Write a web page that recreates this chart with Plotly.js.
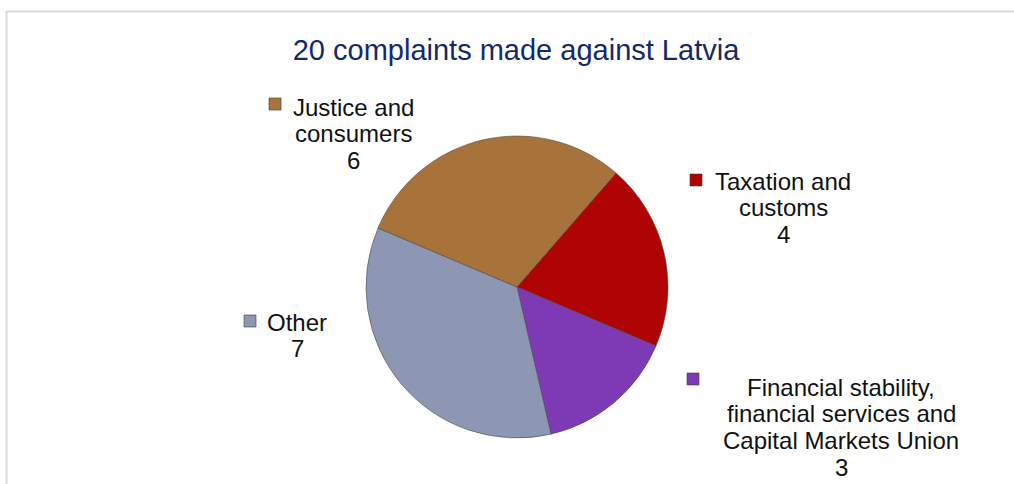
<!DOCTYPE html>
<html>
<head>
<meta charset="utf-8">
<script src="https://cdn.plot.ly/plotly-3.0.1.min.js"></script>
<style>html,body{margin:0;padding:0;background:#fff;}#chart{width:1014px;height:484px;}</style>
</head>
<body>
<div id="chart"></div>
<script>
// ---- data ----
const categories = [
  'Taxation and customs',
  'Financial stability, financial services and Capital Markets Union',
  'Other',
  'Justice and consumers'
];
const values = [4, 3, 7, 6];
const labelLines = [
  ['Taxation and', 'customs'],
  ['Financial stability,', 'financial services and', 'Capital Markets Union'],
  ['Other'],
  ['Justice and', 'consumers']
];
const sliceColors = ['#B00404', '#7E3AB4', '#8D97B3', '#A8733B'];
const titleText = '20 complaints made against Latvia';

// ---- layout helpers (pixel -> paper) ----
const W = 1014, H = 484;
const px = x => x / W;
const py = y => 1 - y / H;

// label block positions: [centre x, first line centre y, marker x, marker y]
const labelPos = [
  [783, 181, 696, 180],
  [841, 387, 693, 379],
  [297, 322, 250, 321],
  [353, 107, 275, 104]
];
const lineGap = 26.7;

const annotations = [];
const shapes = [];
labelLines.forEach((lines, i) => {
  const all = lines.concat([String(values[i])]);
  const p = labelPos[i];
  all.forEach((t, k) => {
    annotations.push({
      text: t, x: px(p[0]), y: py(p[1] + k * lineGap),
      xref: 'paper', yref: 'paper', xanchor: 'center', yanchor: 'middle',
      showarrow: false, font: {family: 'Liberation Sans, Arial, sans-serif', size: 24, color: '#111'}
    });
  });
  const s = 6;
  shapes.push({
    type: 'rect', xref: 'paper', yref: 'paper',
    x0: px(p[2] - s), x1: px(p[2] + s), y0: py(p[3] + s), y1: py(p[3] - s),
    fillcolor: sliceColors[i], line: {color: 'rgba(60,60,60,0.6)', width: 1}
  });
});

// outer frame
shapes.push({
  type: 'rect', xref: 'paper', yref: 'paper',
  x0: px(6.5), x1: px(1030), y0: py(500), y1: py(11.5),
  fillcolor: 'rgba(0,0,0,0)', line: {color: '#D9D9D9', width: 2}
});

const cx = 517, cy = 287, r = 151;
const trace = {
  type: 'pie',
  labels: categories,
  values: values,
  sort: false,
  direction: 'clockwise',
  rotation: 41,
  marker: {colors: sliceColors, line: {color: 'rgba(70,70,70,0.55)', width: 1}},
  textinfo: 'none',
  hoverinfo: 'label+value',
  showlegend: false,
  domain: {x: [px(cx - r), px(cx + r)], y: [py(cy + r), py(cy - r)]}
};

const layout = {
  width: W, height: H,
  margin: {l: 0, r: 0, t: 0, b: 0},
  paper_bgcolor: '#ffffff',
  showlegend: false,
  title: {
    text: titleText,
    x: px(516), xanchor: 'center', xref: 'paper',
    y: py(50), yanchor: 'middle', yref: 'paper',
    font: {family: 'Liberation Sans, Arial, sans-serif', size: 29, color: '#13296B'}
  },
  annotations: annotations,
  shapes: shapes
};

Plotly.newPlot('chart', [trace], layout, {displayModeBar: false, staticPlot: true});
</script>
</body>
</html>
